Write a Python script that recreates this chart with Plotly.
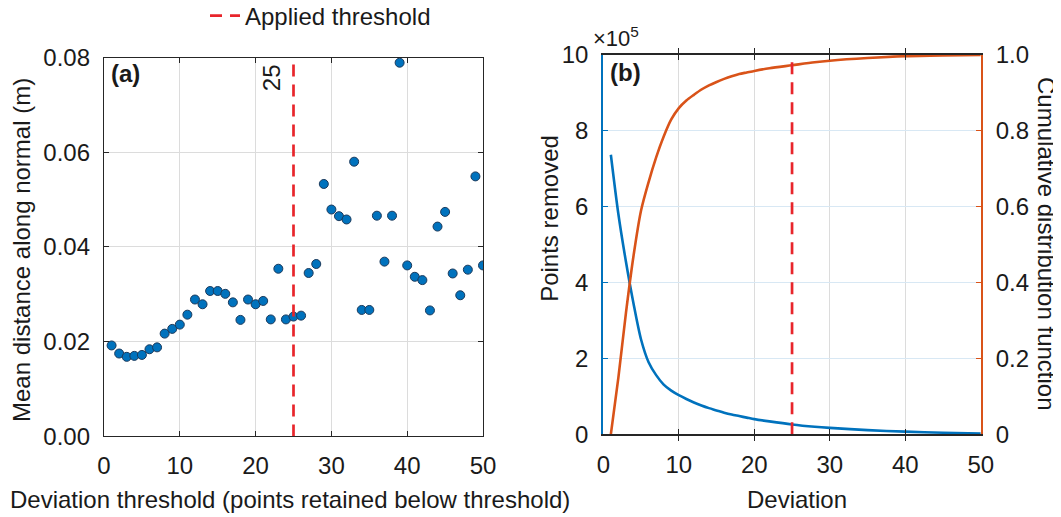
import plotly.graph_objects as go

# ---------------- data ----------------
# Panel (a): mean distance along normal vs deviation threshold
thresholds = list(range(1, 51))
mean_distance = [
    0.0192, 0.0175, 0.0168, 0.0170, 0.0172, 0.0184, 0.0188, 0.0217, 0.0227, 0.0236,
    0.0257, 0.0289, 0.0279, 0.0307, 0.0307, 0.0301, 0.0283, 0.0246, 0.0289, 0.0279,
    0.0286, 0.0247, 0.0354, 0.0247, 0.0253, 0.0255, 0.0345, 0.0364, 0.0533, 0.0479,
    0.0465, 0.0458, 0.0580, 0.0267, 0.0267, 0.0466, 0.0369, 0.0466, 0.0789, 0.0361,
    0.0337, 0.0330, 0.0266, 0.0443, 0.0474, 0.0344, 0.0298, 0.0352, 0.0549, 0.0361,
]
applied_threshold = 25

# Panel (b): points removed and CDF vs deviation
deviation = [1, 2, 3, 4, 5, 6, 7, 8, 9, 10, 11, 12, 13, 14, 15, 16, 17, 18, 19, 20,
             22, 25, 28, 30, 35, 40, 45, 50]
points_removed = [
    737000, 580000, 455000, 345000, 250000, 190000, 156000, 131000, 115000, 103000,
    93000, 84000, 76000, 69000, 63000, 57000, 52000, 48000, 44000, 40000,
    34000, 26000, 20000, 17000, 11000, 7000, 4000, 2000,
]
cdf = [
    0.0, 0.15, 0.32, 0.47, 0.59, 0.665, 0.73, 0.785, 0.83, 0.86,
    0.88, 0.895, 0.909, 0.92, 0.929, 0.937, 0.944, 0.95, 0.954, 0.958,
    0.965, 0.973, 0.981, 0.985, 0.992, 0.997, 0.999, 1.0,
]

x_ticks = [0, 10, 20, 30, 40, 50]
ya_ticks = [0, 0.02, 0.04, 0.06, 0.08]
yb_ticks = [0, 200000, 400000, 600000, 800000, 1000000]
yb_ticktext = ["0", "2", "4", "6", "8", "10"]
yc_ticks = [0, 0.2, 0.4, 0.6, 0.8, 1.0]
yc_ticktext = ["0", "0.2", "0.4", "0.6", "0.8", "1.0"]

# ---------------- style ----------------
FONT = "Liberation Sans, Arial, sans-serif"
TXT = "#1a1a1a"
BLUE = "#0072BD"
ORANGE = "#D95319"
RED = "#E8252B"
FS = 24

fig = go.Figure()

# Panel (a)
fig.add_trace(go.Scatter(
    x=thresholds, y=mean_distance, mode="markers",
    marker=dict(size=9, color=BLUE, line=dict(color="#1b3a5c", width=1)),
    xaxis="x", yaxis="y", showlegend=False,
))
fig.add_trace(go.Scatter(
    x=[applied_threshold, applied_threshold], y=[0, 0.08], mode="lines",
    line=dict(color=RED, width=2.7, dash="12px,8px"),
    xaxis="x", yaxis="y", name="Applied threshold", showlegend=True,
))

# Panel (b)
fig.add_trace(go.Scatter(
    x=deviation, y=points_removed, mode="lines",
    line=dict(color=BLUE, width=2.6, shape="spline", smoothing=0.8),
    xaxis="x2", yaxis="y2", showlegend=False,
))
fig.add_trace(go.Scatter(
    x=deviation, y=cdf, mode="lines",
    line=dict(color=ORANGE, width=2.6, shape="spline", smoothing=0.8),
    xaxis="x2", yaxis="y3", showlegend=False,
))
fig.add_trace(go.Scatter(
    x=[applied_threshold, applied_threshold], y=[0, 0.985], mode="lines",
    line=dict(color=RED, width=2.7, dash="12px,8px"),
    xaxis="x2", yaxis="y3", showlegend=False,
))

common_axis = dict(
    showline=True, linecolor="#262626", linewidth=1.3,
    ticks="inside", ticklen=5, tickcolor="#262626", tickwidth=1,
    tickfont=dict(size=FS, color=TXT, family=FONT),
    zeroline=False, showgrid=True, gridcolor="#DCDCDC", gridwidth=1,
    ticklabelstandoff=8, automargin=False,
)

# The page body adds an 8px margin, so the figure is sized to fit the window.
fig.update_layout(
    width=1053, height=509,
    margin=dict(l=0, r=0, t=0, b=0, autoexpand=False),
    paper_bgcolor="white", plot_bgcolor="white",
    font=dict(family=FONT, size=FS, color=TXT),
    showlegend=True,
    legend=dict(
        orientation="h", x=0.1871, y=0.9843, xanchor="left", yanchor="middle",
        font=dict(size=FS, color=TXT, family=FONT), bgcolor="rgba(0,0,0,0)",
    ),
    xaxis=dict(common_axis, domain=[0.09117, 0.45109], range=[0, 50], tickvals=x_ticks,
               mirror="allticks", anchor="y"),
    yaxis=dict(common_axis, domain=[0.15835, 0.90275], range=[0, 0.08], tickvals=ya_ticks,
               tickformat=".2f", mirror="allticks", anchor="x"),
    xaxis2=dict(common_axis, domain=[0.56534, 0.92383], range=[0, 50], tickvals=x_ticks,
                mirror="allticks", anchor="y2", linewidth=1.8),
    yaxis2=dict(common_axis, domain=[0.16248, 0.90766], range=[0, 1000000], tickvals=yb_ticks,
                ticktext=yb_ticktext, anchor="x2", linecolor=BLUE, linewidth=2.2,
                tickcolor=BLUE, gridcolor="#D8E8F4", mirror=False),
    yaxis3=dict(common_axis, overlaying="y2", side="right", anchor="x2", range=[0, 1],
                tickvals=yc_ticks, ticktext=yc_ticktext, linecolor=ORANGE, linewidth=2.2,
                tickcolor=ORANGE, showgrid=False, mirror=False),
)

annotations = [
    dict(text="<b>(a)</b>", xref="x domain", yref="y domain", x=0.012, y=0.958,
         xanchor="left", yanchor="middle", showarrow=False, font=dict(size=FS)),
    dict(text="<b>(b)</b>", xref="x2 domain", yref="y2 domain", x=0.012, y=0.953,
         xanchor="left", yanchor="middle", showarrow=False, font=dict(size=FS)),
    dict(text=str(applied_threshold), xref="x", yref="y", x=22.2, y=0.0757,
         xanchor="center", yanchor="middle", textangle=-90, showarrow=False,
         font=dict(size=FS)),
    dict(text="Mean distance along normal (m)", xref="paper", yref="paper",
         x=0.0133, y=0.5246, xanchor="center", yanchor="middle", textangle=-90,
         showarrow=False, font=dict(size=FS)),
    dict(text="Deviation threshold (points retained below threshold)", xref="paper",
         yref="paper", x=0.2678, y=0.0334, xanchor="center", yanchor="middle",
         showarrow=False, font=dict(size=FS)),
    dict(text="Points removed", xref="paper", yref="paper", x=0.5136, y=0.5874,
         xanchor="center", yanchor="middle", textangle=-90, showarrow=False,
         font=dict(size=FS)),
    dict(text="Deviation", xref="paper", yref="paper", x=0.7493, y=0.0334,
         xanchor="center", yanchor="middle", showarrow=False, font=dict(size=FS)),
    dict(text="Cumulative distribution function", xref="paper", yref="paper",
         x=0.9867, y=0.5363, xanchor="center", yanchor="middle", textangle=90,
         showarrow=False, font=dict(size=FS)),
    dict(text="×10<sup>5</sup>", xref="paper", yref="paper", x=0.5774, y=0.943,
         xanchor="center", yanchor="middle", showarrow=False, font=dict(size=FS - 2)),
]
fig.update_layout(annotations=annotations)

fig.write_html("out.html")
